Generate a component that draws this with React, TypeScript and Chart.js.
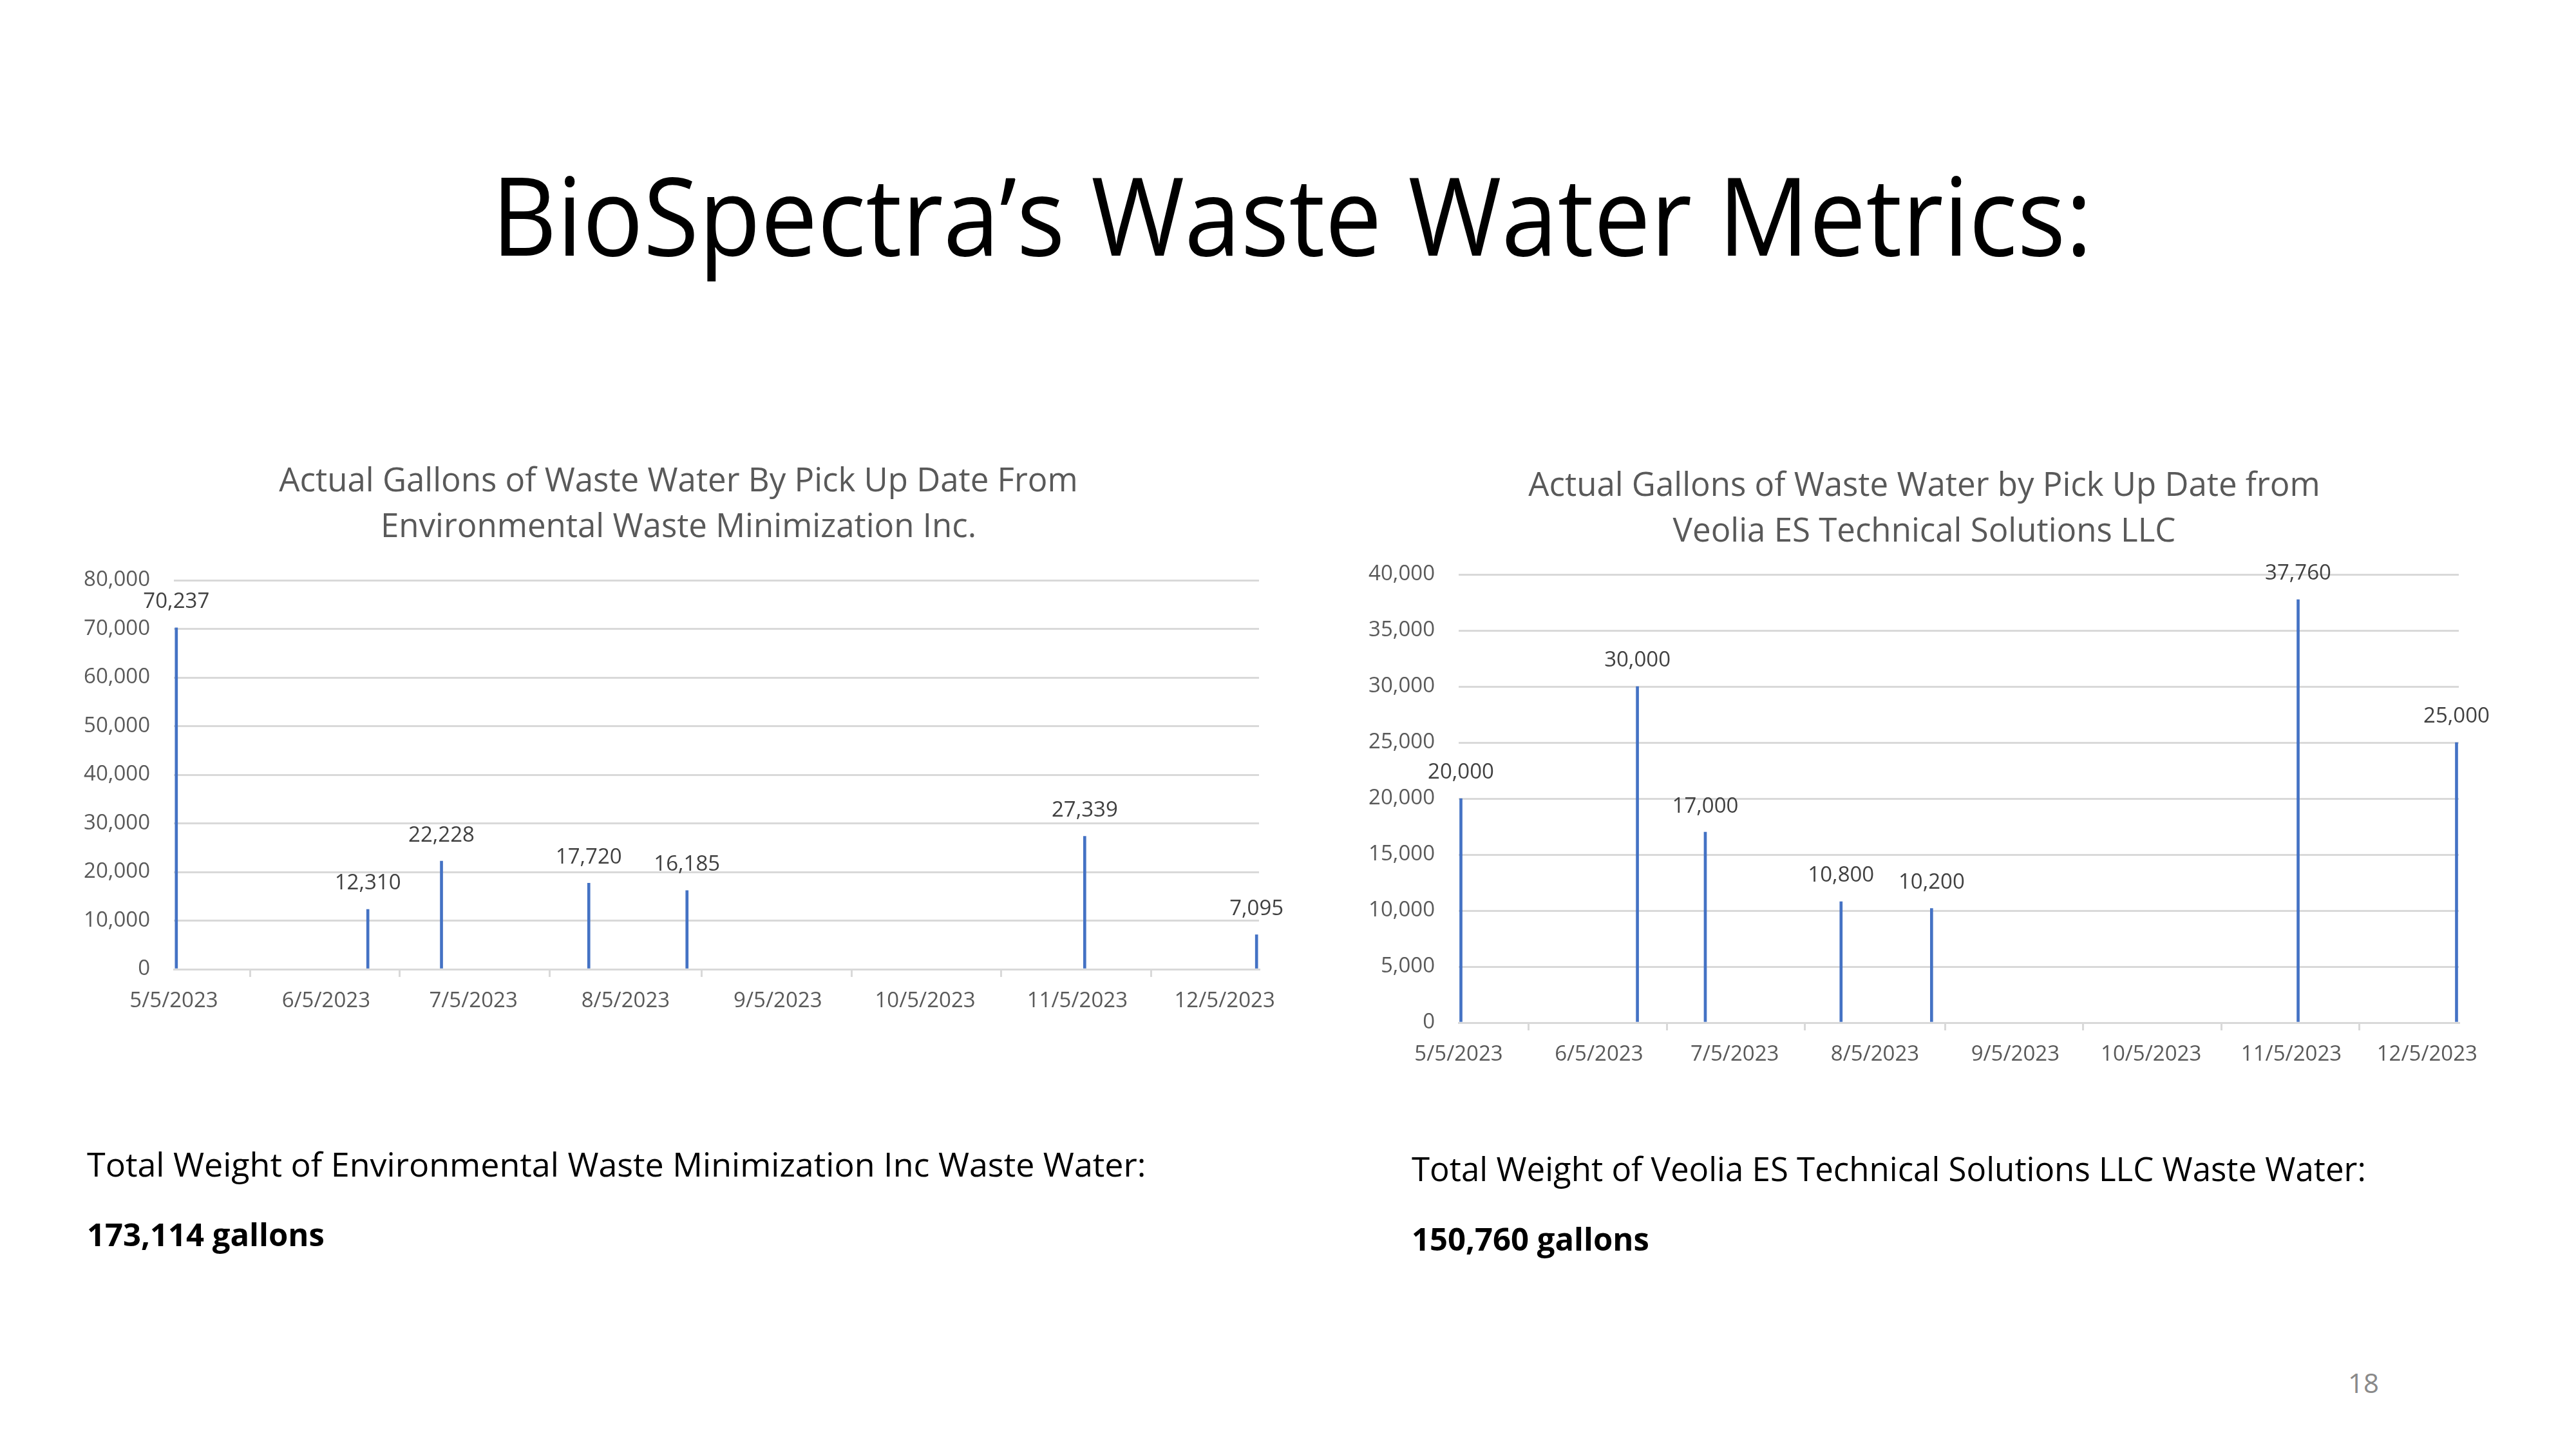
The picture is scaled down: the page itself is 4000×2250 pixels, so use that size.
import React, { useEffect, useRef } from "react";
import { Chart, registerables } from "chart.js";

Chart.register(...registerables);

// ---------- data ----------
const axisStart = "2023-05-05";
const axisEnd = "2023-12-12";
const monthTicks = [
  "2023-05-05",
  "2023-06-05",
  "2023-07-05",
  "2023-08-05",
  "2023-09-05",
  "2023-10-05",
  "2023-11-05",
  "2023-12-05",
];

const ewmDates = [
  "2023-05-05",
  "2023-06-13",
  "2023-06-28",
  "2023-07-28",
  "2023-08-17",
  "2023-11-06",
  "2023-12-11",
];
const ewmGallons = [70237, 12310, 22228, 17720, 16185, 27339, 7095];

const veoliaDates = [
  "2023-05-05",
  "2023-06-13",
  "2023-06-28",
  "2023-07-28",
  "2023-08-17",
  "2023-11-06",
  "2023-12-11",
];
const veoliaGallons = [20000, 30000, 17000, 10800, 10200, 37760, 25000];

const ewmTitle = [
  "Actual Gallons of Waste Water By Pick Up Date From",
  "Environmental Waste Minimization Inc.",
];
const veoliaTitle = [
  "Actual Gallons of Waste Water by Pick Up Date from",
  "Veolia ES Technical Solutions LLC",
];

const slideTitle = "BioSpectra\u2019s Waste Water Metrics:";
const ewmTotalLabel = "Total Weight of Environmental Waste Minimization Inc Waste Water:";
const ewmTotal = "173,114 gallons";
const veoliaTotalLabel = "Total Weight of Veolia ES Technical Solutions LLC Waste Water:";
const veoliaTotal = "150,760 gallons";
const pageNumber = "18";

// ---------- helpers ----------
const DAY = 86400000;
function toUTC(s: string) {
  const [y, m, d] = s.split("-").map(Number);
  return Date.UTC(y, m - 1, d);
}
function dayOffset(s: string) {
  return Math.round((toUTC(s) - toUTC(axisStart)) / DAY);
}
function dateLabel(offset: number) {
  const d = new Date(toUTC(axisStart) + offset * DAY);
  return `${d.getUTCMonth() + 1}/${d.getUTCDate()}/${d.getUTCFullYear()}`;
}
const fmt = (v: number) => v.toLocaleString("en-US");

const FONT = "'Open Sans', sans-serif";
const GRID = "#D9D9D9";

const valueLabels = {
  id: "valueLabels",
  afterDatasetsDraw(chart: any) {
    const ctx = chart.ctx;
    const meta = chart.getDatasetMeta(0);
    const data = chart.data.datasets[0].data as any[];
    ctx.save();
    ctx.font = `33px ${FONT}`;
    ctx.fillStyle = "#404040";
    ctx.textAlign = "center";
    ctx.textBaseline = "middle";
    meta.data.forEach((el: any, i: number) => {
      ctx.fillText(fmt(data[i].y), el.x, el.y - 40);
    });
    ctx.restore();
  },
};

// shifts the title block horizontally (chart title is centred on the whole chart object)
const titleShift = {
  id: "titleShift",
  afterLayout(chart: any, _args: any, opts: any) {
    const tb = chart.titleBlock;
    if (tb && opts && opts.dx) {
      tb.left += opts.dx;
      tb.right += opts.dx;
    }
  },
};

type Cfg = {
  dates: string[];
  values: number[];
  title: string[];
  yMax: number;
  yStep: number;
  padRight: number;
  yWidth: number;
  titleTop: number;
  titleBottom: number;
  titleDx: number;
};

function makeConfig(c: Cfg): any {
  const tickValues = monthTicks.map(dayOffset);
  return {
    type: "bar",
    data: {
      datasets: [
        {
          data: c.dates.map((d, i) => ({ x: dayOffset(d) + 0.5, y: c.values[i] })),
          backgroundColor: "#4472C4",
          borderWidth: 0,
          barThickness: 4,
        },
      ],
    },
    options: {
      animation: false,
      responsive: false,
      devicePixelRatio: 1,
      layout: { padding: { left: 0, right: c.padRight, top: 0, bottom: 0 } },
      plugins: {
        legend: { display: false },
        tooltip: { enabled: false },
        titleShift: { dx: c.titleDx },
        title: {
          display: true,
          text: c.title,
          color: "#595959",
          font: { family: FONT, size: 51, weight: "normal", lineHeight: 71 / 51 },
          padding: { top: c.titleTop, bottom: c.titleBottom },
        },
      },
      scales: {
        x: {
          type: "linear",
          offset: false,
          min: 0,
          max: dayOffset(axisEnd),
          afterBuildTicks(scale: any) {
            scale.ticks = tickValues.map((v) => ({ value: v }));
          },
          afterFit(scale: any) {
            scale.height = 125;
            scale.paddingLeft = 0;
            scale.paddingRight = 0;
          },
          ticks: {
            autoSkip: false,
            maxRotation: 0,
            minRotation: 0,
            padding: 18,
            color: "#595959",
            font: { family: FONT, size: 33 },
            callback: (v: number) => dateLabel(v),
          },
          grid: {
            display: true,
            drawOnChartArea: false,
            drawTicks: true,
            tickLength: 12,
            color: GRID,
            lineWidth: 3,
          },
          border: { display: true, color: GRID, width: 3 },
        },
        y: {
          min: 0,
          max: c.yMax,
          afterFit(scale: any) {
            scale.width = c.yWidth;
            scale.paddingTop = 0;
            scale.paddingBottom = 0;
          },
          ticks: {
            stepSize: c.yStep,
            padding: 37,
            color: "#595959",
            font: { family: FONT, size: 33 },
            callback: (v: number) => fmt(v),
          },
          grid: { color: GRID, lineWidth: 3, drawTicks: false },
          border: { display: false },
        },
      },
    },
    plugins: [valueLabels, titleShift],
  };
}

function BarChart(props: { cfg: Cfg; left: number; top: number; width: number; height: number }) {
  const ref = useRef<HTMLCanvasElement | null>(null);
  useEffect(() => {
    if (!ref.current) return;
    const chart = new Chart(ref.current, makeConfig(props.cfg));
    return () => chart.destroy();
  }, []);
  return (
    <canvas
      ref={ref}
      width={props.width}
      height={props.height}
      style={{
        position: "absolute",
        left: props.left,
        top: props.top,
        width: props.width,
        height: props.height,
      }}
    />
  );
}

const textBase: React.CSSProperties = {
  position: "absolute",
  fontFamily: FONT,
  lineHeight: 1,
  whiteSpace: "nowrap",
  color: "#000",
};

export default function App() {
  const ewmCfg: Cfg = {
    dates: ewmDates,
    values: ewmGallons,
    title: ewmTitle,
    yMax: 80000,
    yStep: 10000,
    padRight: 45,
    yWidth: 170,
    titleTop: 33,
    titleBottom: 46,
    titleDx: 26,
  };
  const veoliaCfg: Cfg = {
    dates: veoliaDates,
    values: veoliaGallons,
    title: veoliaTitle,
    yMax: 40000,
    yStep: 5000,
    padRight: 82,
    yWidth: 165,
    titleTop: 40,
    titleBottom: 30,
    titleDx: 29,
  };
  return (
    <div
      style={{
        position: "absolute",
        left: 0,
        top: 0,
        width: 4000,
        height: 2250,
        background: "#fff",
        overflow: "hidden",
      }}
    >
      <div
        style={{
          ...textBase,
          left: 0,
          width: 4000,
          textAlign: "center",
          top: 248,
          fontSize: 168,
          paddingLeft: 12,
          boxSizing: "border-box",
          transform: "scaleX(0.935)",
          transformOrigin: "2006px 0",
        }}
      >
        {slideTitle}
      </div>

      <BarChart cfg={ewmCfg} left={100} top={680} width={1900} height={950} />
      <BarChart cfg={veoliaCfg} left={2100} top={680} width={1800} height={1033} />

      <div style={{ ...textBase, left: 135, top: 1781, fontSize: 52 }}>{ewmTotalLabel}</div>
      <div style={{ ...textBase, left: 135, top: 1892, fontSize: 49, fontWeight: 700 }}>{ewmTotal}</div>

      <div style={{ ...textBase, left: 2192, top: 1789, fontSize: 51 }}>{veoliaTotalLabel}</div>
      <div style={{ ...textBase, left: 2192, top: 1899, fontSize: 49, fontWeight: 700 }}>{veoliaTotal}</div>

      <div
        style={{
          ...textBase,
          right: 306,
          top: 2126,
          fontSize: 42,
          color: "#898989",
          textAlign: "right",
        }}
      >
        {pageNumber}
      </div>
    </div>
  );
}
